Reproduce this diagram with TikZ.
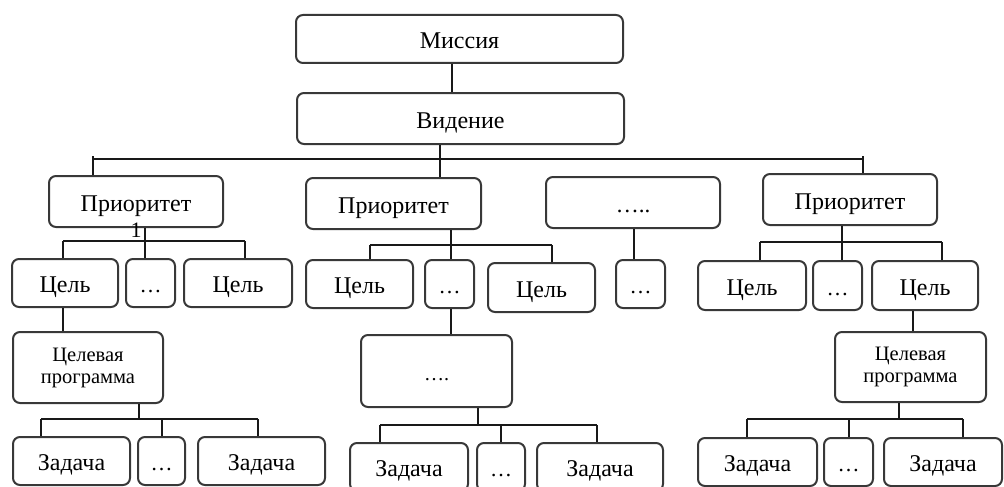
\documentclass[tikz,border=0pt]{standalone}
\usepackage{fontspec}
\setmainfont{Liberation Serif}

\tikzset{
  rbox/.style={draw=black!78, line width=2pt, rounded corners=7pt, inner sep=0pt},
  one/.style={rbox, font=\fontsize{24}{26}\selectfont, text height=19pt, text depth=0pt},
  two/.style={rbox, font=\fontsize{20.5}{22}\selectfont, align=center},
  conn/.style={line width=2pt, draw=black!90}
}

\begin{document}
\def\goalh{48pt}
\def\prih{51pt}
\def\dotw{49pt}

\begin{tikzpicture}[x=1pt,y=-1pt]
    \useasboundingbox (0,0) rectangle (1004,487);
    \clip (0,0) rectangle (1004,487);

    \node[one, minimum width=327pt, minimum height=48pt] (mis) at (459.5,39) {Миссия};
    \node[one, minimum width=327pt, minimum height=\prih] (vis) at (460.5,118.5) {Видение};

    \node[one, minimum width=174pt, minimum height=\prih] (p1) at (136,201.5) {Приоритет};
    \node[font=\fontsize{22}{24}\selectfont, inner sep=0pt] (p1num) at (136,230) {1};
    \node[one, minimum width=175pt, minimum height=\prih] (p2) at (393.5,203.5) {Приоритет};
    \node[one, minimum width=174pt, minimum height=\prih, font=\fontsize{23}{25}\selectfont] (p3) at (633,202.5) {…..};
    \node[one, minimum width=174pt, minimum height=\prih] (p4) at (850,199.5) {Приоритет};

    \node[one, minimum width=106pt, minimum height=\goalh] (g11) at (65,283) {Цель};
    \node[one, minimum width=\dotw, minimum height=\goalh, font=\fontsize{22}{24}\selectfont] (g12) at (150.5,283) {…};
    \node[one, minimum width=108pt, minimum height=\goalh] (g13) at (238,283) {Цель};
    \node[one, minimum width=107pt, minimum height=\goalh] (g21) at (359.5,284) {Цель};
    \node[one, minimum width=\dotw, minimum height=\goalh, font=\fontsize{22}{24}\selectfont] (g22) at (449.5,284) {…};
    \node[one, minimum width=107pt, minimum height=49pt] (g23) at (541.5,287.5) {Цель};
    \node[one, minimum width=\dotw, minimum height=\goalh, font=\fontsize{22}{24}\selectfont] (g3) at (640.5,284) {…};
    \node[one, minimum width=108pt, minimum height=49pt] (g41) at (752,285.5) {Цель};
    \node[one, minimum width=\dotw, minimum height=49pt, font=\fontsize{22}{24}\selectfont] (g42) at (837.5,285.5) {…};
    \node[one, minimum width=106pt, minimum height=49pt] (g43) at (925,285.5) {Цель};

    \node[two, minimum width=150pt, minimum height=71pt] (tp1) at (88,367.5) {Целевая\\программа};
    \node[one, minimum width=151pt, minimum height=72pt, font=\fontsize{20}{22}\selectfont] (m2) at (436.5,371) {….};
    \node[two, minimum width=151pt, minimum height=70pt] (tp4) at (910.5,367) {Целевая\\программа};

    \node[one, minimum width=117pt, minimum height=\goalh] (t11) at (71.5,461) {Задача};
    \node[one, minimum width=47pt, minimum height=\goalh, font=\fontsize{22}{24}\selectfont] (t12) at (161.5,461) {…};
    \node[one, minimum width=127pt, minimum height=\goalh] (t13) at (261.5,461) {Задача};
    \node[one, minimum width=118pt, minimum height=\goalh] (t21) at (409,467) {Задача};
    \node[one, minimum width=48pt, minimum height=\goalh, font=\fontsize{22}{24}\selectfont] (t22) at (501,467) {…};
    \node[one, minimum width=126pt, minimum height=\goalh] (t23) at (600,467) {Задача};
    \node[one, minimum width=119pt, minimum height=\goalh] (t41) at (757.5,462) {Задача};
    \node[one, minimum width=\dotw, minimum height=\goalh, font=\fontsize{22}{24}\selectfont] (t42) at (848.5,462) {…};
    \node[one, minimum width=118pt, minimum height=\goalh] (t43) at (943,462) {Задача};

    \coordinate (k0) at (452,0);
    \draw[conn] (mis.south -| k0) -- (vis.north -| k0);

    \coordinate (a0) at (440,159);
    \coordinate (a1) at (93,159);
    \coordinate (a4) at (863,159);
    \draw[conn] (a1) -- (a4);
    \draw[conn] (vis.south -| a0) -- (p2.north -| a0);
    \draw[conn] ([yshift=3pt]a1) -- (p1.north -| a1);
    \draw[conn] ([yshift=3pt]a4) -- (p4.north -| a4);

    \coordinate (b1) at (63,241);
    \coordinate (b2) at (145,241);
    \coordinate (b3) at (245,241);
    \draw[conn] (b1) -- (b3);
    \draw[conn] (p1.south -| b2) -- (g12.north -| b2);
    \draw[conn] (b1) -- (g11.north -| b1);
    \draw[conn] (b3) -- (g13.north -| b3);
    \draw[conn] (g11.south -| b1) -- (tp1.north -| b1);

    \coordinate (c1) at (41,419);
    \coordinate (c2) at (139,419);
    \coordinate (c3) at (162,419);
    \coordinate (c4) at (258,419);
    \draw[conn] (c1) -- (c4);
    \draw[conn] (tp1.south -| c2) -- (c2);
    \draw[conn] (c1) -- (t11.north -| c1);
    \draw[conn] (c3) -- (t12.north -| c3);
    \draw[conn] (c4) -- (t13.north -| c4);

    \coordinate (d1) at (370,245);
    \coordinate (d2) at (451,245);
    \coordinate (d3) at (552,245);
    \draw[conn] (d1) -- (d3);
    \draw[conn] (p2.south -| d2) -- (g22.north -| d2);
    \draw[conn] (d1) -- (g21.north -| d1);
    \draw[conn] (d3) -- (g23.north -| d3);
    \draw[conn] (g22.south -| d2) -- (m2.north -| d2);

    \coordinate (e1) at (380,425);
    \coordinate (e2) at (478,425);
    \coordinate (e3) at (501,425);
    \coordinate (e4) at (597,425);
    \draw[conn] (e1) -- (e4);
    \draw[conn] (m2.south -| e2) -- (e2);
    \draw[conn] (e1) -- (t21.north -| e1);
    \draw[conn] (e3) -- (t22.north -| e3);
    \draw[conn] (e4) -- (t23.north -| e4);

    \coordinate (f1) at (634,0);
    \draw[conn] (p3.south -| f1) -- (g3.north -| f1);

    \coordinate (h1) at (760,242);
    \coordinate (h2) at (842,242);
    \coordinate (h3) at (942,242);
    \coordinate (h4) at (913,0);
    \draw[conn] (h1) -- (h3);
    \draw[conn] (p4.south -| h2) -- (g42.north -| h2);
    \draw[conn] (h1) -- (g41.north -| h1);
    \draw[conn] (h3) -- (g43.north -| h3);
    \draw[conn] (g43.south -| h4) -- (tp4.north -| h4);

    \coordinate (i1) at (747,419);
    \coordinate (i2) at (849,419);
    \coordinate (i3) at (899,419);
    \coordinate (i4) at (963,419);
    \draw[conn] (i1) -- (i4);
    \draw[conn] (tp4.south -| i3) -- (i3);
    \draw[conn] (i1) -- (t41.north -| i1);
    \draw[conn] (i2) -- (t42.north -| i2);
    \draw[conn] (i4) -- (t43.north -| i4);
\end{tikzpicture}
\end{document}
